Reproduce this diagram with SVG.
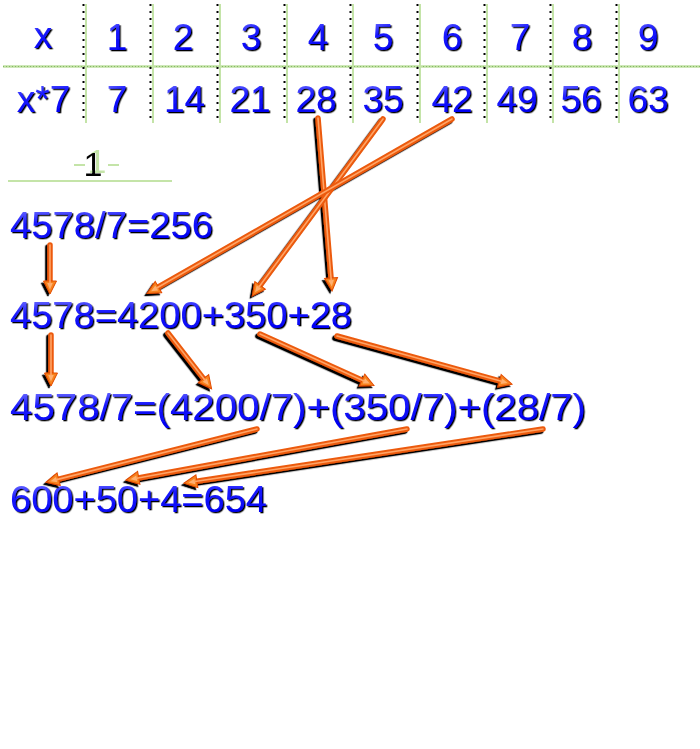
<svg xmlns="http://www.w3.org/2000/svg" xmlns:xlink="http://www.w3.org/1999/xlink" width="700" height="749" viewBox="0 0 700 749">
<style>
  .t { font-family: "Liberation Sans", Arial, sans-serif; fill: url(#blue); filter: url(#ts); }
  .cell { font-size: 37px; text-anchor: middle; }
  .eq { font-size: 36px; }
  .vgreen { stroke: #c4e4a8; stroke-width: 2; }
  .vdots { stroke: #000; stroke-width: 2; stroke-dasharray: 2 5; }
  .hgreen { stroke: #bfe0a2; stroke-width: 2.5; }
  .hdots { stroke: #86b865; stroke-width: 1; stroke-dasharray: 1 2; }
  .shaft { fill: none; stroke: #ec5a0c; stroke-width: 5.5; stroke-linecap: round; marker-end: url(#ah); }
  .hl { fill: none; stroke: #ffa466; stroke-width: 1.6; stroke-linecap: round; marker-end: none; }
</style>
<defs>
  <linearGradient id="blue" x1="0" y1="0" x2="0.25" y2="1">
    <stop offset="0" stop-color="#8585ff"/>
    <stop offset="0.45" stop-color="#1a1aff"/>
    <stop offset="1" stop-color="#0000f0"/>
  </linearGradient>
  <filter id="ts" x="-20%" y="-20%" width="140%" height="150%">
    <feDropShadow dx="1.4" dy="1.3" stdDeviation="0.25" flood-color="#000" flood-opacity="1"/>
  </filter>
  <filter id="gs" x="-50%" y="-30%" width="250%" height="160%">
    <feDropShadow dx="4" dy="-3" stdDeviation="0" flood-color="#c4e4a8" flood-opacity="1"/>
  </filter>
  <filter id="as" filterUnits="userSpaceOnUse" x="0" y="0" width="700" height="749">
    <feDropShadow dx="-2.2" dy="2.2" stdDeviation="0.5" flood-color="#000" flood-opacity="1"/>
  </filter>
  <marker id="ah" markerUnits="userSpaceOnUse" markerWidth="24" markerHeight="24" refX="0" refY="0" orient="auto" overflow="visible">
    <path d="M-2,-6.5 L11,0 L-2,6.5 Z" fill="#f7821e" stroke="#e24a00" stroke-width="1"/>
    <path d="M0,-2.8 L6.5,0 L0,2.8 Z" fill="#ffb070"/>
  </marker>
  <path id="p1" d="M318,118 L331.2,280"/>
  <path id="p2" d="M383,119 L258.9,287"/>
  <path id="p3" d="M452,119 L156.7,288"/>
  <path id="p4" d="M50,245 L50,283"/>
  <path id="p5" d="M51,335 L51,375"/>
  <path id="p6" d="M168,333 L204.8,380.1"/>
  <path id="p7" d="M260,334 L363.9,380.9"/>
  <path id="p8" d="M337,336 L501.4,381.3"/>
  <path id="p9" d="M257,429 L56.7,479.6"/>
  <path id="p10" d="M407,429 L136.8,478.2"/>
  <path id="p11" d="M543,429 L194.9,481.5"/>
</defs>
<rect width="700" height="749" fill="#fff"/>

<g id="table">
  <g id="grid">
    <line class="hgreen" x1="3" y1="66.5" x2="700" y2="66.5"/>
    <line class="hdots" x1="3" y1="66.5" x2="700" y2="66.5"/>
    <g>
      <line class="vgreen" x1="86" y1="4" x2="86" y2="123"/><line class="vdots" x1="83.5" y1="4" x2="83.5" y2="123"/>
      <line class="vgreen" x1="153" y1="4" x2="153" y2="123"/><line class="vdots" x1="150.5" y1="4" x2="150.5" y2="123"/>
      <line class="vgreen" x1="220" y1="4" x2="220" y2="123"/><line class="vdots" x1="217.5" y1="4" x2="217.5" y2="123"/>
      <line class="vgreen" x1="287" y1="4" x2="287" y2="123"/><line class="vdots" x1="284.5" y1="4" x2="284.5" y2="123"/>
      <line class="vgreen" x1="353" y1="4" x2="353" y2="123"/><line class="vdots" x1="350.5" y1="4" x2="350.5" y2="123"/>
      <line class="vgreen" x1="420" y1="4" x2="420" y2="123"/><line class="vdots" x1="417.5" y1="4" x2="417.5" y2="123"/>
      <line class="vgreen" x1="487" y1="4" x2="487" y2="123"/><line class="vdots" x1="484.5" y1="4" x2="484.5" y2="123"/>
      <line class="vgreen" x1="553" y1="4" x2="553" y2="123"/><line class="vdots" x1="550.5" y1="4" x2="550.5" y2="123"/>
      <line class="vgreen" x1="619" y1="4" x2="619" y2="123"/><line class="vdots" x1="616.5" y1="4" x2="616.5" y2="123"/>
    </g>
  </g>
  <g id="row-x">
    <text class="t cell" x="43" y="48">x</text>
    <text class="t cell" x="117" y="50">1</text>
    <text class="t cell" x="183" y="50">2</text>
    <text class="t cell" x="251" y="50">3</text>
    <text class="t cell" x="318" y="50">4</text>
    <text class="t cell" x="383" y="50">5</text>
    <text class="t cell" x="452" y="50">6</text>
    <text class="t cell" x="520" y="50">7</text>
    <text class="t cell" x="582" y="50">8</text>
    <text class="t cell" x="648" y="50">9</text>
  </g>
  <g id="row-x7">
    <text class="t cell" x="43.5" y="112">x*7</text>
    <text class="t cell" x="117" y="112">7</text>
    <text class="t cell" x="184.5" y="112">14</text>
    <text class="t cell" x="250" y="112">21</text>
    <text class="t cell" x="316" y="112">28</text>
    <text class="t cell" x="383" y="112">35</text>
    <text class="t cell" x="452" y="112">42</text>
    <text class="t cell" x="517" y="112">49</text>
    <text class="t cell" x="581" y="112">56</text>
    <text class="t cell" x="648" y="112">63</text>
  </g>
</g>

<g id="section-label">
  <line x1="74" y1="165" x2="85" y2="165" stroke="#c4e4a8" stroke-width="2"/>
  <line x1="108" y1="165" x2="119" y2="165" stroke="#c4e4a8" stroke-width="2"/>
  <text x="93" y="176" font-family="'Liberation Sans', Arial, sans-serif" font-size="34" fill="#000" text-anchor="middle" filter="url(#gs)">1</text>
  <line x1="8" y1="181" x2="172" y2="181" stroke="#c4e4a8" stroke-width="2"/>
</g>

<g id="eq1"><text class="t eq" x="10" y="238" textLength="203" lengthAdjust="spacingAndGlyphs">4578/7=256</text></g>
<g id="eq2"><text class="t eq" x="10" y="328" textLength="342" lengthAdjust="spacingAndGlyphs">4578=4200+350+28</text></g>
<g id="eq3"><text class="t eq" x="10" y="420" textLength="576" lengthAdjust="spacingAndGlyphs">4578/7=(4200/7)+(350/7)+(28/7)</text></g>
<g id="eq4"><text class="t eq" x="10" y="512" textLength="257" lengthAdjust="spacingAndGlyphs">600+50+4=654</text></g>

<g id="connectors" filter="url(#as)">
  <g id="c1"><use xlink:href="#p1" class="shaft"/><use xlink:href="#p1" class="hl"/></g>
  <g id="c2"><use xlink:href="#p2" class="shaft"/><use xlink:href="#p2" class="hl"/></g>
  <g id="c3"><use xlink:href="#p3" class="shaft"/><use xlink:href="#p3" class="hl"/></g>
  <g id="c4"><use xlink:href="#p4" class="shaft"/><use xlink:href="#p4" class="hl"/></g>
  <g id="c5"><use xlink:href="#p5" class="shaft"/><use xlink:href="#p5" class="hl"/></g>
  <g id="c6"><use xlink:href="#p6" class="shaft"/><use xlink:href="#p6" class="hl"/></g>
  <g id="c7"><use xlink:href="#p7" class="shaft"/><use xlink:href="#p7" class="hl"/></g>
  <g id="c8"><use xlink:href="#p8" class="shaft"/><use xlink:href="#p8" class="hl"/></g>
  <g id="c9"><use xlink:href="#p9" class="shaft"/><use xlink:href="#p9" class="hl"/></g>
  <g id="c10"><use xlink:href="#p10" class="shaft"/><use xlink:href="#p10" class="hl"/></g>
  <g id="c11"><use xlink:href="#p11" class="shaft"/><use xlink:href="#p11" class="hl"/></g>
</g>
</svg>
